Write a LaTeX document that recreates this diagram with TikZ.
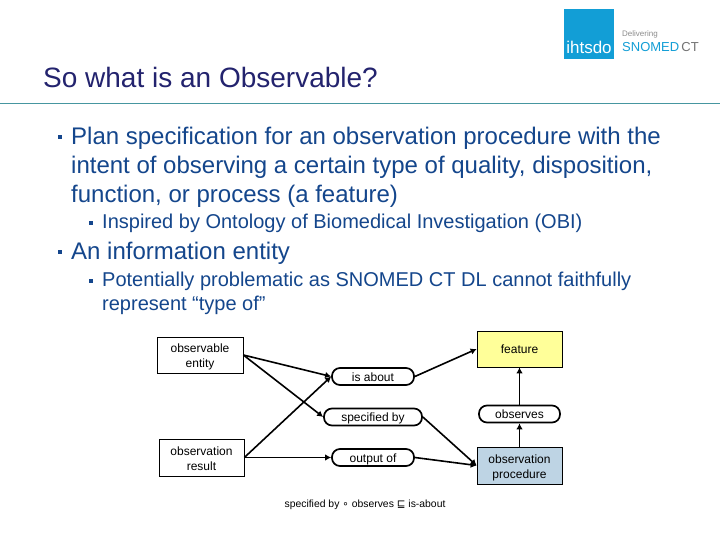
\documentclass[tikz,border=0pt]{standalone}
\usepackage{fontspec}
\setmainfont{Liberation Sans}
\newfontfamily\symfont{DejaVu Sans}
\usetikzlibrary{positioning,arrows.meta}
\definecolor{featyellow}{RGB}{255,255,153}
\definecolor{procblue}{RGB}{190,212,228}
\definecolor{logoblue}{RGB}{18,158,214}
\definecolor{rulecol}{RGB}{70,150,160}
\definecolor{titlecol}{RGB}{35,35,110}
\definecolor{bodycol}{RGB}{20,70,140}
\newcommand{\lowbox}[1]{\rule{0pt}{#1}}
\tikzset{
  x=1pt,y=-1pt,
  linetext/.style={anchor=base west,inner sep=0pt,text=bodycol},
  mainline/.style={linetext,font=\fontsize{24}{28}\selectfont},
  subline/.style={linetext,font=\fontsize{20}{24}\selectfont},
  bullet/.style={fill=bodycol,inner sep=0pt,minimum size=#1},
  boxnode/.style={draw,line width=0.7pt,inner sep=0pt,minimum width=85pt,minimum height=36pt,
    align=center,font=\fontsize{12}{15}\selectfont},
  pillnode/.style={draw,line width=1.7pt,rounded corners=8pt,fill=white,inner sep=0pt,
    minimum height=17pt,text height=9pt,text depth=0pt,font=\fontsize{12}{15}\selectfont},
  link/.style={line width=1.6pt,-{Latex[length=6pt,width=6.5pt]}},
}
\begin{document}
\begin{tikzpicture}
\useasboundingbox[fill=white] (0,0) rectangle (720,540);
% header
\node[linetext,text=titlecol,font=\fontsize{28}{32}\selectfont] (title) at (43,88) {So what is an Observable?};
\coordinate (ruleL) at (0,103);
\coordinate (ruleR) at (720,103);
\draw[rulecol,line width=0.8pt] (ruleL) -- (ruleR);
\node[fill=logoblue,minimum width=50pt,minimum height=50pt,inner sep=0pt] (logo) at (589,34) {};
\node[anchor=base,inner sep=0pt,text=white,font=\fontsize{17}{17}\selectfont] (ihtsdo) at (589,54) {ihtsdo};
\node[linetext,text=black!45,font=\fontsize{8}{8}\selectfont] (delivering) at (622,37) {Delivering};
\node[linetext,text=logoblue,font=\fontsize{13}{13}\selectfont] (snomed) at (622,52) {SNOMED\,\textcolor{black!55}{CT}};
% text
\node[bullet=4pt] (b1) at (60,137) {};
\node[mainline] (l1) at (71,145) {Plan specification for an observation procedure with the};
\node[mainline] (l2) at (71,174) {intent of observing a certain type of quality, disposition,};
\node[mainline] (l3) at (71,203) {function, or process (a feature)};
\node[bullet=3.5pt] (b2) at (91,223) {};
\node[subline] (l4) at (102,229) {Inspired by Ontology of Biomedical Investigation (OBI)};
\node[bullet=4pt] (b3) at (60,252) {};
\node[mainline] (l5) at (71,259) {An information entity};
\node[bullet=3.5pt] (b4) at (91,281) {};
\node[subline] (l6) at (102,286) {Potentially problematic as SNOMED CT DL cannot faithfully};
\node[subline] (l7) at (102,310) {represent “type of”};
% diagram
\node[boxnode,minimum width=86pt] (entity) at (200,355) {\lowbox{13pt}observable\\entity};
\node[boxnode,minimum height=37pt] (result) at (201.5,457.5) {\lowbox{11pt}observation\\result};
\node[boxnode,fill=featyellow] (feature) at (519.5,349) {feature};
\node[boxnode,fill=procblue,minimum height=37pt] (procedure) at (519.5,465.5) {\lowbox{13pt}observation\\procedure};
\node[pillnode,minimum width=82pt] (about) at (373,376.5) {is about};
\node[pillnode,minimum width=98pt] (specified) at (373,417) {specified by};
\node[pillnode,minimum width=82pt] (output) at (373,457.5) {output of};
\node[pillnode,minimum width=81pt] (observes) at (519.5,414) {observes};
\draw[link] (entity.east) -- (about.west);
\draw[link] (entity.east) -- (specified.west);
\draw[link] (result.east) -- (about.west);
\draw[link] (result.east) -- (output.west);
\draw[link] (about.east) -- (feature.west);
\draw[link] (specified.east) -- (procedure.west);
\draw[link] (output.east) -- (procedure.west);
\draw[link] (procedure.north) -- (observes.south);
\draw[link] (observes.north) -- (feature.south);
\node[anchor=base,inner sep=0pt,font=\fontsize{10.4}{12}\selectfont,text=black] (axiom) at (365,507)
  {specified by {\symfont∘} observes {\symfont⊑} is-about};
\end{tikzpicture}
\end{document}
